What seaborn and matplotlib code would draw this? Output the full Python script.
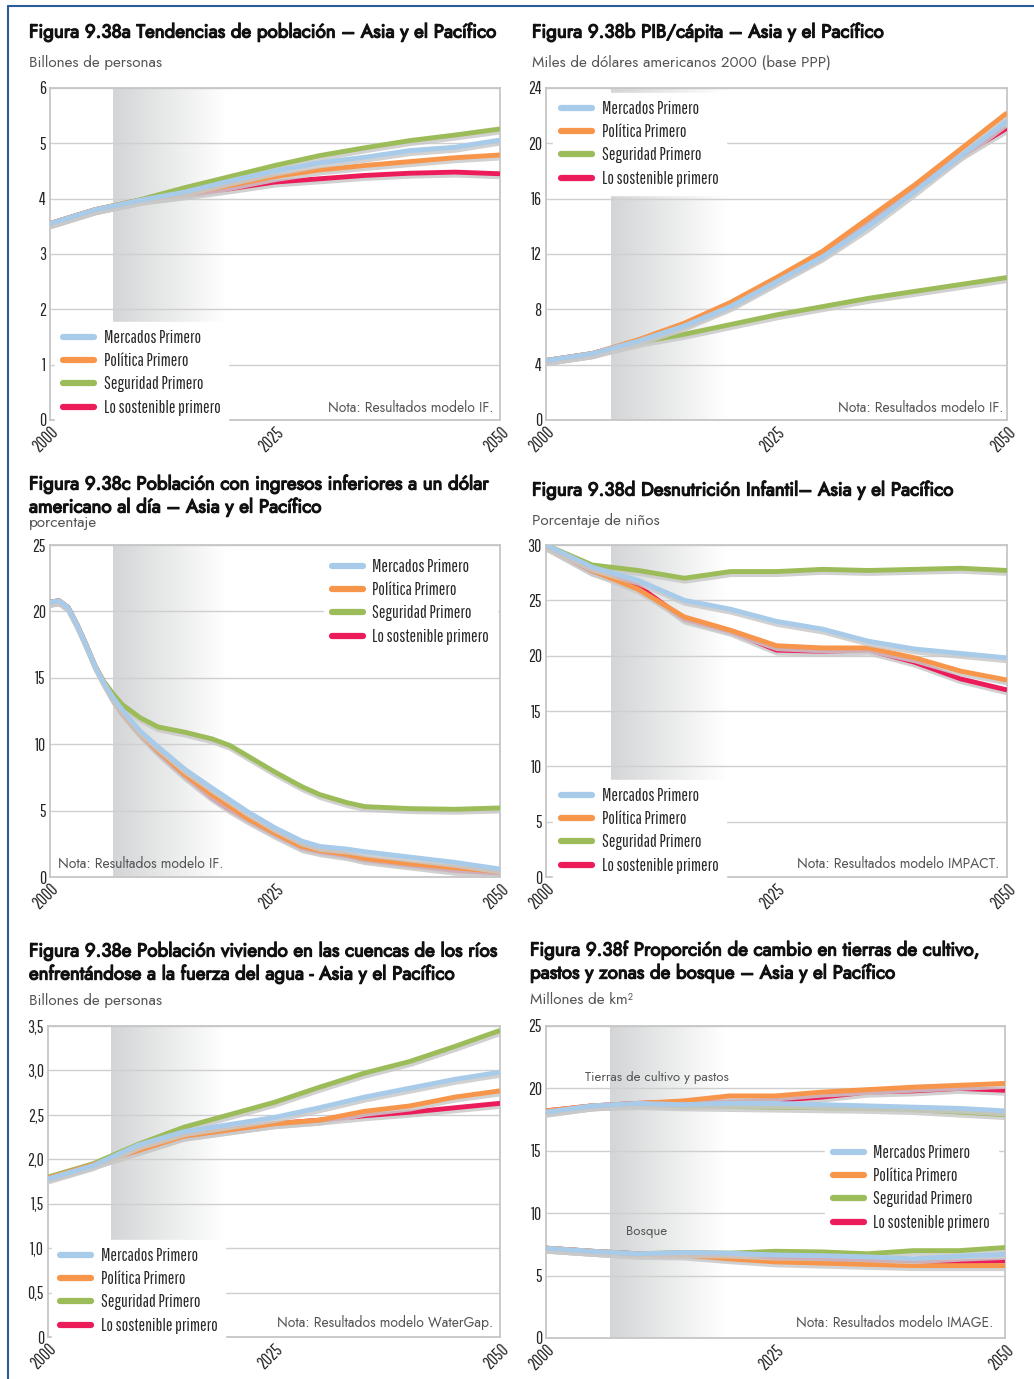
import numpy as np
import pandas as pd
import matplotlib
matplotlib.use("Agg")
import matplotlib.pyplot as plt
import matplotlib.patheffects as pe
from matplotlib.colors import LinearSegmentedColormap
from matplotlib.lines import Line2D
import seaborn as sns

W, H = 1034, 1379

ESCENARIOS = ["Mercados Primero", "Política Primero", "Seguridad Primero", "Lo sostenible primero"]
COLORES = ["#a9cbea", "#f7954a", "#9cbb59", "#ec1c5a"]
ORDEN_DIBUJO = ["Lo sostenible primero", "Seguridad Primero", "Política Primero", "Mercados Primero"]

anios5 = [2000, 2005, 2010, 2015, 2020, 2025, 2030, 2035, 2040, 2045, 2050]

# 9.38a poblacion (billones)
pob_mercados = [3.55, 3.8, 3.97, 4.12, 4.32, 4.5, 4.65, 4.75, 4.87, 4.93, 5.06]
pob_politica = [3.55, 3.8, 3.97, 4.08, 4.24, 4.4, 4.52, 4.6, 4.67, 4.74, 4.79]
pob_seguridad = [3.55, 3.8, 3.98, 4.2, 4.4, 4.6, 4.78, 4.92, 5.05, 5.15, 5.26]
pob_sostenible = [3.55, 3.8, 3.97, 4.07, 4.18, 4.3, 4.36, 4.42, 4.46, 4.48, 4.45]

# 9.38b PIB per capita
pib_mercados = [4.3, 4.8, 5.7, 6.8, 8.2, 10.0, 11.8, 14.0, 16.5, 19.1, 21.6]
pib_politica = [4.3, 4.8, 5.8, 7.0, 8.5, 10.3, 12.2, 14.6, 17.0, 19.6, 22.2]
pib_seguridad = [4.3, 4.8, 5.6, 6.2, 6.9, 7.6, 8.2, 8.8, 9.3, 9.8, 10.3]
pib_sostenible = [4.3, 4.8, 5.7, 6.9, 8.3, 10.1, 11.9, 14.3, 16.8, 19.1, 21.1]

# 9.38c poblacion con menos de 1 dolar al dia (%)
anios_c = [2000, 2001, 2002, 2003, 2004, 2005, 2006, 2007, 2008, 2010, 2012, 2015, 2018,
           2020, 2022, 2025, 2028, 2030, 2033, 2035, 2040, 2045, 2050]
pobreza_mercados = [20.7, 20.8, 20.3, 19.0, 17.5, 15.9, 14.6, 13.5, 12.6, 11.0, 9.8, 8.1, 6.7,
                    5.8, 4.9, 3.7, 2.7, 2.3, 2.1, 1.9, 1.5, 1.1, 0.6]
pobreza_politica = [20.7, 20.8, 20.3, 19.0, 17.5, 15.9, 14.6, 13.4, 12.4, 10.8, 9.5, 7.7, 6.2,
                    5.3, 4.4, 3.3, 2.3, 2.0, 1.7, 1.4, 1.0, 0.7, 0.4]
pobreza_seguridad = [20.7, 20.8, 20.3, 19.0, 17.5, 15.9, 14.7, 13.8, 13.0, 12.0, 11.3, 10.9, 10.4,
                     9.9, 9.1, 7.9, 6.8, 6.2, 5.6, 5.3, 5.15, 5.1, 5.2]
pobreza_sostenible = [20.7, 20.8, 20.3, 19.0, 17.5, 15.9, 14.6, 13.4, 12.4, 10.8, 9.4, 7.6, 6.0,
                      5.1, 4.3, 3.2, 2.2, 1.9, 1.6, 1.3, 0.9, 0.5, 0.3]

# 9.38d desnutricion infantil (%)
desn_mercados = [30.0, 28.0, 26.8, 25.0, 24.2, 23.1, 22.4, 21.3, 20.6, 20.2, 19.8]
desn_politica = [29.9, 27.7, 26.0, 23.5, 22.3, 20.9, 20.7, 20.7, 19.8, 18.6, 17.8]
desn_seguridad = [30.0, 28.2, 27.7, 27.0, 27.6, 27.6, 27.8, 27.7, 27.8, 27.9, 27.7]
desn_sostenible = [29.9, 27.6, 26.3, 23.3, 22.2, 20.5, 20.4, 20.5, 19.4, 17.9, 16.9]

# 9.38e poblacion en cuencas con estres hidrico (billones)
agua_mercados = [1.78, 1.93, 2.16, 2.31, 2.39, 2.47, 2.58, 2.70, 2.80, 2.90, 2.98]
agua_politica = [1.79, 1.94, 2.10, 2.26, 2.33, 2.40, 2.44, 2.54, 2.60, 2.70, 2.77]
agua_seguridad = [1.80, 1.95, 2.17, 2.36, 2.50, 2.64, 2.81, 2.97, 3.10, 3.27, 3.45]
agua_sostenible = [1.79, 1.94, 2.10, 2.26, 2.33, 2.40, 2.44, 2.49, 2.53, 2.58, 2.63]

# 9.38f tierras (millones de km2)
cultivo_mercados = [18.1, 18.6, 18.8, 18.7, 18.8, 18.8, 18.7, 18.6, 18.5, 18.4, 18.2]
cultivo_politica = [18.2, 18.6, 18.8, 19.0, 19.4, 19.4, 19.7, 19.9, 20.1, 20.25, 20.4]
cultivo_seguridad = [18.1, 18.6, 18.7, 18.6, 18.55, 18.5, 18.45, 18.4, 18.3, 18.1, 17.9]
cultivo_sostenible = [18.2, 18.6, 18.8, 18.9, 18.9, 19.05, 19.3, 19.7, 19.8, 20.0, 19.85]
bosque_mercados = [7.2, 6.95, 6.75, 6.85, 6.8, 6.65, 6.6, 6.5, 6.35, 6.55, 6.7]
bosque_politica = [7.2, 6.95, 6.7, 6.65, 6.35, 6.1, 6.0, 5.9, 5.8, 5.8, 5.8]
bosque_seguridad = [7.2, 6.95, 6.75, 6.85, 6.8, 6.95, 6.9, 6.75, 7.0, 7.0, 7.25]
bosque_sostenible = [7.2, 6.95, 6.75, 6.8, 6.5, 6.4, 6.3, 6.15, 6.05, 6.1, 6.2]

sns.set_style("white")
TITLE_FONT = ["Jost", "Lato", "DejaVu Sans"]
LIGHT_FONT = ["Jost", "Lato", "DejaVu Sans"]
NARROW = ["Pathway Gothic One", "Barlow Condensed", "Sofia Sans Condensed", "Roboto Condensed",
          "Archivo Narrow", "PT Sans Narrow", "DejaVu Sans"]
plt.rcParams["font.family"] = TITLE_FONT

fig = plt.figure(figsize=(W / 100, H / 100), dpi=100)


def fx(x):
    return x / W


def fy(y):
    return 1 - y / H


def tabla(anios, series, grupo="g"):
    filas = []
    for nombre, vals in zip(ESCENARIOS, series):
        for a, v in zip(anios, vals):
            filas.append({"anio": a, "valor": v, "escenario": nombre, "grupo": grupo})
    return pd.DataFrame(filas)


gris = LinearSegmentedColormap.from_list("g", ["#d4d5d7", "#e9eaea", "#ffffff"])


def panel(box, df, ylim, yticks, yticklabels=None):
    x0, y0, x1, y1 = box
    ax = fig.add_axes([fx(x0), fy(y1), fx(x1 - x0), (y1 - y0) / H])
    grad = np.linspace(0, 1, 200).reshape(1, -1)
    ax.imshow(grad, cmap=gris, extent=[2007, 2019.5, ylim[0], ylim[1]],
              aspect="auto", zorder=0, interpolation="bicubic")
    sns.lineplot(data=df, x="anio", y="valor", hue="escenario", units="grupo",
                 estimator=None, hue_order=ORDEN_DIBUJO,
                 palette=dict(zip(ESCENARIOS, COLORES)), linewidth=3.5,
                 legend=False, ax=ax, zorder=3)
    for ln in ax.lines:
        ln.set_solid_capstyle("butt")
        ln.set_path_effects([pe.SimpleLineShadow(offset=(0.5, -2.2), shadow_color="#c9c9c9",
                                                 alpha=0.85), pe.Normal()])
    ax.set_xlim(2000, 2050)
    ax.set_ylim(*ylim)
    ax.set_xticks([2000, 2025, 2050])
    ax.set_xticklabels(["2000", "2025", "2050"], rotation=45, ha="right",
                       rotation_mode="anchor", family=NARROW, fontsize=12.5)
    ax.set_yticks(yticks)
    if yticklabels is None:
        yticklabels = [str(t) for t in yticks]
    ax.set_yticklabels(yticklabels, family=NARROW, fontsize=12.5)
    ax.tick_params(length=0, pad=3)
    ax.set_xlabel("")
    ax.set_ylabel("")
    ax.grid(axis="y", color="#cfcfcf", linewidth=1.0)
    ax.set_axisbelow(True)
    for s in ax.spines.values():
        s.set_color("#c6c6c6")
        s.set_linewidth(1.3)
    return ax


def leyenda(ax, x, y, loc="upper left"):
    handles = [Line2D([0], [0], color=c, linewidth=4.5) for c in COLORES]
    leg = ax.legend(handles, ESCENARIOS, loc=loc,
                    bbox_to_anchor=(fx(x), fy(y)), bbox_transform=fig.transFigure,
                    frameon=True, fancybox=False, framealpha=1, edgecolor="white",
                    facecolor="white", handlelength=1.8, handletextpad=0.55,
                    labelspacing=0.42, borderpad=0.45, borderaxespad=0,
                    prop={"family": NARROW, "size": 12.5})
    leg.set_zorder(5)
    return leg


def titulo(x, y, lineas, sub, sub_y):
    for i, t in enumerate(lineas):
        fig.text(fx(x), fy(y + i * 23), t, fontsize=13.5, fontweight="bold",
                 family=TITLE_FONT, color="#111111", va="center", ha="left",
                 path_effects=[pe.withStroke(linewidth=0.9, foreground="#111111")])
    fig.text(fx(x), fy(sub_y), sub, fontsize=11, fontweight="normal", family=LIGHT_FONT,
             color="#555555", va="center", ha="left")


def nota(ax, x, y, texto, ha="right"):
    fig.text(fx(x), fy(y), texto, fontsize=10, fontweight="normal", family=LIGHT_FONT,
             color="#555555", ha=ha, va="center", zorder=6)


# a
titulo(29, 32, ["Figura 9.38a Tendencias de población – Asia y el Pacífico"],
       "Billones de personas", 63)
ax = panel((50, 88, 500, 420),
           tabla(anios5, [pob_mercados, pob_politica, pob_seguridad, pob_sostenible]),
           (0, 6), [0, 1, 2, 3, 4, 5, 6])
leyenda(ax, 55, 322)
nota(ax, 494, 407, "Nota: Resultados modelo IF.")

# b
titulo(532, 32, ["Figura 9.38b PIB/cápita – Asia y el Pacífico"],
       "Miles de dólares americanos 2000 (base PPP)", 63)
ax = panel((546, 88, 1007, 420),
           tabla(anios5, [pib_mercados, pib_politica, pib_seguridad, pib_sostenible]),
           (0, 24), [0, 4, 8, 12, 16, 20, 24])
leyenda(ax, 553, 93)
nota(ax, 1003, 407, "Nota: Resultados modelo IF.")

# c
titulo(29, 484, ["Figura 9.38c Población con ingresos inferiores a un dólar",
                 "americano al día – Asia y el Pacífico"], "porcentaje", 523)
ax = panel((50, 545, 500, 877),
           tabla(anios_c, [pobreza_mercados, pobreza_politica, pobreza_seguridad, pobreza_sostenible]),
           (0, 25), [0, 5, 10, 15, 20, 25])
leyenda(ax, 497, 551, loc="upper right")
nota(ax, 58, 863, "Nota: Resultados modelo IF.", ha="left")

# d
titulo(532, 490, ["Figura 9.38d Desnutrición Infantil– Asia y el Pacífico"],
       "Porcentaje de niños", 521)
ax = panel((546, 545, 1007, 877),
           tabla(anios5, [desn_mercados, desn_politica, desn_seguridad, desn_sostenible]),
           (0, 30), [0, 5, 10, 15, 20, 25, 30])
leyenda(ax, 553, 780)
nota(ax, 999, 863, "Nota: Resultados modelo IMPACT.")

# e
titulo(29, 951, ["Figura 9.38e Población viviendo en las cuencas de los ríos",
                 "enfrentándose a la fuerza del agua - Asia y el Pacífico"],
       "Billones de personas", 1001)
ax = panel((48, 1026, 500, 1337),
           tabla(anios5, [agua_mercados, agua_politica, agua_seguridad, agua_sostenible]),
           (0, 3.5), [0, 0.5, 1, 1.5, 2, 2.5, 3, 3.5],
           ["0", "0,5", "1,0", "1,5", "2,0", "2,5", "3,0", "3,5"])
leyenda(ax, 52, 1240)
nota(ax, 493, 1323, "Nota: Resultados modelo WaterGap.")

# f
titulo(530, 950, ["Figura 9.38f Proporción de cambio en tierras de cultivo,",
                  "pastos y zonas de bosque – Asia y el Pacífico"],
       "Millones de km²", 999)
df_f = pd.concat([
    tabla(anios5, [cultivo_mercados, cultivo_politica, cultivo_seguridad, cultivo_sostenible], "cultivo"),
    tabla(anios5, [bosque_mercados, bosque_politica, bosque_seguridad, bosque_sostenible], "bosque"),
])
ax = panel((546, 1026, 1005, 1338), df_f, (0, 25), [0, 5, 10, 15, 20, 25])
leyenda(ax, 998, 1137, loc="upper right")
nota(ax, 993, 1322, "Nota: Resultados modelo IMAGE.")
fig.text(fx(585), fy(1077), "Tierras de cultivo y pastos", fontsize=9.5,
         family=LIGHT_FONT, color="#555555", va="center")
fig.text(fx(626), fy(1232), "Bosque", fontsize=9.5, family=LIGHT_FONT,
         color="#555555", va="center")

# marco azul
fig.add_artist(Line2D([fx(8), fx(8)], [fy(6), 0], color="#2a5c9a", linewidth=1.5))
fig.add_artist(Line2D([fx(8), 1], [fy(6), fy(6)], color="#2a5c9a", linewidth=1.5))

fig.savefig("out.png", dpi=100)
